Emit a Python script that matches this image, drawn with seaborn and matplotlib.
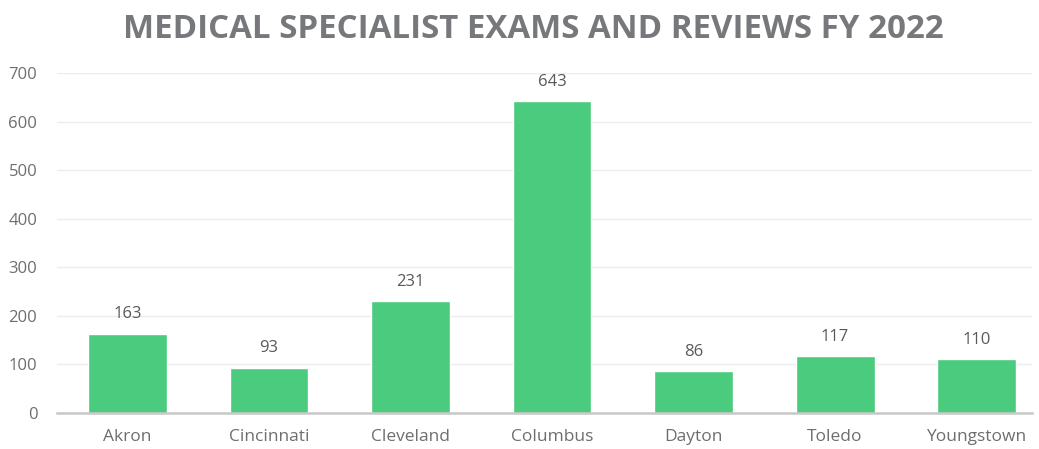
import pandas as pd
import matplotlib.pyplot as plt
import seaborn as sns

# data
cities = ['Akron', 'Cincinnati', 'Cleveland', 'Columbus', 'Dayton', 'Toledo', 'Youngstown']
exams = [163, 93, 231, 643, 86, 117, 110]
yticks = [0, 100, 200, 300, 400, 500, 600, 700]

df = pd.DataFrame({'city': cities, 'exams': exams})

sns.set_style('white')
plt.rcParams['font.family'] = ['Open Sans', 'DejaVu Sans']

fig = plt.figure(figsize=(10.39, 4.49), dpi=100)
ax = fig.add_axes([56.75 / 1039, 0.081, (1032 - 56.75) / 1039, 0.756])

sns.barplot(data=df, x='city', y='exams', color='#4bcb7e', width=0.558, saturation=1, ax=ax)

ax.set_xlim(-0.5, 6.392)
ax.set_ylim(0, 700)
ax.set_yticks(yticks)
ax.yaxis.grid(True, color='#ececec', linewidth=1)
ax.set_axisbelow(True)
for s in ['top', 'right', 'left']:
    ax.spines[s].set_visible(False)
ax.spines['bottom'].set_color('#c8c8c8')
ax.spines['bottom'].set_linewidth(1.8)
ax.tick_params(axis='x', length=0, labelsize=12.5, labelcolor='#6e6e6e', pad=12)
ax.tick_params(axis='y', length=0, labelsize=12, labelcolor='#6e6e6e', pad=14)
ax.set_xlabel('')
ax.set_ylabel('')

# value labels
for container in ax.containers:
    ax.bar_label(container, padding=8, fontsize=12, color='#595959')

fig.text(0.513, 0.934, 'MEDICAL SPECIALIST EXAMS AND REVIEWS FY 2022', ha='center', va='center',
         fontsize=23.8, fontweight='bold', color='#77787b')

fig.savefig('out.png', dpi=100)
